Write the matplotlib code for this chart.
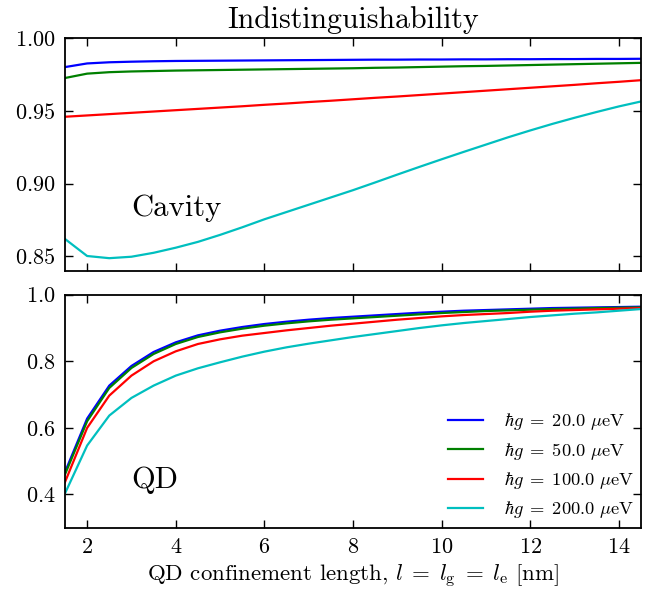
import matplotlib
matplotlib.use("Agg")
import matplotlib.pyplot as plt

plt.rcParams['font.family'] = 'cmr10'
plt.rcParams['mathtext.fontset'] = 'cm'
plt.rcParams['axes.formatter.use_mathtext'] = True

# confinement length [nm]
l = [1.5, 2.0, 2.5, 3.0, 3.5, 4.0, 4.5, 5.0, 5.5, 6.0, 6.5, 7.0, 7.5, 8.0,
     8.5, 9.0, 9.5, 10.0, 10.5, 11.0, 11.5, 12.0, 12.5, 13.0, 13.5, 14.0, 14.5]

labels = [r'$\hbar g\;=\;20.0\ \mu\mathrm{eV}$',
          r'$\hbar g\;=\;50.0\ \mu\mathrm{eV}$',
          r'$\hbar g\;=\;100.0\ \mu\mathrm{eV}$',
          r'$\hbar g\;=\;200.0\ \mu\mathrm{eV}$']
colors = ['b', 'g', 'r', 'c']

# cavity indistinguishability
cav_20 = [0.9800, 0.9825, 0.9833, 0.9837, 0.9840, 0.9842, 0.9843, 0.9844, 0.9845,
          0.9846, 0.9847, 0.9848, 0.9849, 0.9850, 0.9851, 0.9851, 0.9852, 0.9852,
          0.9853, 0.9853, 0.9854, 0.9854, 0.9855, 0.9855, 0.9856, 0.9856, 0.9857]
cav_50 = [0.9725, 0.9755, 0.9765, 0.9770, 0.9773, 0.9776, 0.9778, 0.9780, 0.9782,
          0.9784, 0.9786, 0.9788, 0.9790, 0.9792, 0.9795, 0.9797, 0.9800, 0.9803,
          0.9806, 0.9808, 0.9811, 0.9814, 0.9817, 0.9820, 0.9823, 0.9826, 0.9829]
cav_100 = [0.9459, 0.9468, 0.9477, 0.9486, 0.9495, 0.9504, 0.9513, 0.9522, 0.9531,
           0.9541, 0.9550, 0.9560, 0.9569, 0.9579, 0.9589, 0.9598, 0.9608, 0.9618,
           0.9628, 0.9638, 0.9648, 0.9658, 0.9668, 0.9678, 0.9689, 0.9699, 0.9710]
cav_200 = [0.8620, 0.8503, 0.8488, 0.8498, 0.8525, 0.8560, 0.8600, 0.8648, 0.8700,
           0.8755, 0.8805, 0.8855, 0.8905, 0.8955, 0.9008, 0.9062, 0.9115, 0.9167,
           0.9218, 0.9268, 0.9318, 0.9365, 0.9410, 0.9452, 0.9492, 0.9530, 0.9564]

# QD indistinguishability
qd_20 = [0.467, 0.628, 0.727, 0.786, 0.828, 0.857, 0.878, 0.892, 0.903, 0.912,
         0.919, 0.925, 0.930, 0.934, 0.938, 0.942, 0.946, 0.949, 0.952, 0.954,
         0.956, 0.958, 0.960, 0.961, 0.962, 0.963, 0.964]
qd_50 = [0.460, 0.620, 0.720, 0.780, 0.822, 0.852, 0.873, 0.887, 0.898, 0.907,
         0.914, 0.920, 0.925, 0.929, 0.933, 0.937, 0.941, 0.945, 0.948, 0.951,
         0.953, 0.955, 0.957, 0.958, 0.960, 0.961, 0.962]
qd_100 = [0.437, 0.600, 0.697, 0.757, 0.800, 0.830, 0.852, 0.866, 0.877, 0.885,
          0.893, 0.900, 0.907, 0.913, 0.919, 0.925, 0.930, 0.935, 0.939, 0.942,
          0.945, 0.949, 0.952, 0.954, 0.956, 0.958, 0.960]
qd_200 = [0.403, 0.547, 0.637, 0.690, 0.727, 0.757, 0.779, 0.797, 0.814, 0.829,
          0.842, 0.853, 0.863, 0.873, 0.882, 0.891, 0.900, 0.908, 0.915, 0.921,
          0.927, 0.933, 0.938, 0.943, 0.947, 0.952, 0.957]

cav = [cav_20, cav_50, cav_100, cav_200]
qd = [qd_20, qd_50, qd_100, qd_200]

fig = plt.figure(figsize=(6.65, 5.93), dpi=100)
ax1 = fig.add_axes([0.0977, 0.543, 0.8663, 0.393])
ax2 = fig.add_axes([0.0977, 0.110, 0.8663, 0.393], sharex=ax1)

for i in range(4):
    ax1.plot(l, cav[i], color=colors[i], linewidth=1.6)
    ax2.plot(l, qd[i], color=colors[i], linewidth=1.6, label=labels[i])

ax1.set_xlim(1.5, 14.5)
ax1.set_ylim(0.84, 1.0)
ax1.set_yticks([0.85, 0.90, 0.95, 1.00])
ax2.set_ylim(0.3, 1.0)
ax2.set_yticks([0.4, 0.6, 0.8, 1.0])
ax2.set_xticks([2, 4, 6, 8, 10, 12, 14])

for ax in (ax1, ax2):
    ax.tick_params(direction='in', top=True, right=True, length=6, width=1,
                   labelsize=16, pad=7)
    for s in ax.spines.values():
        s.set_linewidth(1.3)
ax1.tick_params(labelbottom=False)

ax1.set_title('Indistinguishability', fontsize=21.5, pad=7)
ax1.text(3.0, 0.878, 'Cavity', fontsize=22)
ax2.text(3.0, 0.42, 'QD', fontsize=22)
ax2.set_xlabel(r'QD confinement length, $l\;=\;l_\mathrm{g}\;=\;l_\mathrm{e}$ [nm]',
               fontsize=16.5)

ax2.legend(loc='lower right', frameon=False, fontsize=13.3, handlelength=1.9,
           handletextpad=1.1, labelspacing=0.45, borderaxespad=0.0)

fig.savefig('out.png', dpi=100)
